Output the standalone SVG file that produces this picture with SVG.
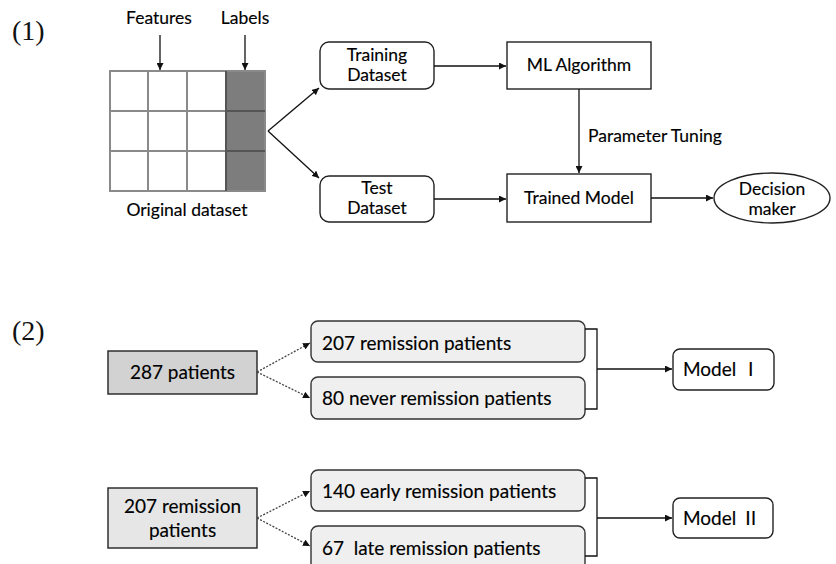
<svg xmlns="http://www.w3.org/2000/svg" width="836" height="564" viewBox="0 0 836 564">
<style>
.t{font-family:Lato,"Open Sans","Noto Sans CJK SC",sans-serif;fill:#000;stroke:#000;stroke-width:0.15;}
.s16{font-size:17.5px;}
.s18{font-size:19px;}
.num{font-family:"Liberation Serif","Times New Roman",serif;font-size:28px;fill:#111;}
.box{fill:#fff;stroke:#222;stroke-width:1.4;}
.gbox{fill:#efefef;stroke:#333;stroke-width:1.4;}
.ln{fill:none;stroke:#111;stroke-width:1.3;}
.dot{fill:none;stroke:#444;stroke-width:1.3;stroke-dasharray:2 1.5;}
</style>
<defs>
<marker id="ah" viewBox="0 0 10 10" refX="10" refY="5" markerWidth="7" markerHeight="7" markerUnits="userSpaceOnUse" orient="auto">
<path d="M0,0 L10,5 L0,10 z" fill="#111"/>
</marker>
</defs>
<rect width="836" height="564" fill="#fff"/>
<text class="num" x="12" y="40">(1)</text>
<text class="num" x="12" y="340">(2)</text>

<g id="dataset">
<rect x="110" y="71" width="116" height="120" fill="#fff"/>
<rect x="226" y="71" width="39" height="120" fill="#7d7d7d"/>
<g stroke="#8a8a8a" stroke-width="2" fill="none">
<line x1="148" y1="71" x2="148" y2="191"/>
<line x1="187" y1="71" x2="187" y2="191"/>
<line x1="110" y1="111" x2="226" y2="111"/>
<line x1="110" y1="151" x2="226" y2="151"/>
<rect x="110" y="71" width="155" height="120"/>
</g>
<g stroke="#555" stroke-width="2">
<line x1="226" y1="111" x2="265" y2="111"/>
<line x1="226" y1="151" x2="265" y2="151"/>
<line x1="226" y1="71" x2="226" y2="191"/>
</g>
<text class="t s16" x="187" y="216" text-anchor="middle">Original dataset</text>
</g>
<g id="features-label"><text class="t s16" x="159" y="24" text-anchor="middle">Features</text></g>
<g id="labels-label"><text class="t s16" x="245" y="24" text-anchor="middle">Labels</text></g>

<g id="training">
<rect class="box" x="320" y="42" width="114" height="47" rx="9"/>
<text class="t s16" x="377" y="61" text-anchor="middle">Training</text>
<text class="t s16" x="377" y="81" text-anchor="middle">Dataset</text>
</g>
<g id="test">
<rect class="box" x="320" y="176" width="114" height="46" rx="9"/>
<text class="t s16" x="377" y="194" text-anchor="middle">Test</text>
<text class="t s16" x="377" y="214" text-anchor="middle">Dataset</text>
</g>
<g id="ml">
<rect class="box" x="507" y="42" width="144" height="47"/>
<text class="t s16" x="579" y="71" text-anchor="middle">ML Algorithm</text>
</g>
<g id="trained">
<rect class="box" x="507" y="174" width="144" height="48"/>
<text class="t s16" x="579" y="204" text-anchor="middle">Trained Model</text>
</g>
<g id="decision">
<ellipse class="box" cx="772" cy="198" rx="58" ry="25"/>
<text class="t s16" x="772" y="195" text-anchor="middle">Decision</text>
<text class="t s16" x="772" y="215" text-anchor="middle">maker</text>
</g>

<g id="p287">
<rect x="108" y="351" width="149" height="43" fill="#d2d2d2" stroke="#222" stroke-width="1.4"/>
<text class="t s18" x="182.5" y="379" text-anchor="middle">287 patients</text>
</g>
<g id="r207">
<rect class="gbox" x="311" y="321" width="274" height="41" rx="7"/>
<text class="t s18" x="322" y="350">207 remission patients</text>
</g>
<g id="n80">
<rect class="gbox" x="311" y="377" width="274" height="42" rx="7"/>
<text class="t s18" x="322" y="405">80 never remission patients</text>
</g>
<g id="model1">
<rect class="box" x="673" y="349" width="101" height="41" rx="7"/>
<text class="t s18" x="683" y="376">Model Ⅰ</text>
</g>

<g id="rem207">
<rect x="108" y="488" width="149" height="60" fill="#e6e6e6" stroke="#222" stroke-width="1.4"/>
<text class="t s18" x="182.5" y="513" text-anchor="middle">207 remission</text>
<text class="t s18" x="182.5" y="537" text-anchor="middle">patients</text>
</g>
<g id="e140">
<rect class="gbox" x="311" y="470" width="274" height="41" rx="7"/>
<text class="t s18" x="322" y="498">140 early remission patients</text>
</g>
<g id="l67">
<rect class="gbox" x="311" y="526" width="274" height="44" rx="7"/>
<text class="t s18" x="322" y="555" xml:space="preserve" style="white-space:pre">67  late remission patients</text>
</g>
<g id="model2">
<rect class="box" x="673" y="498" width="100" height="40" rx="7"/>
<text class="t s18" x="683" y="525">Model Ⅱ</text>
</g>

<g id="connectors">
<line class="ln" x1="160" y1="35" x2="160" y2="70" marker-end="url(#ah)"/>
<line class="ln" x1="245" y1="35" x2="245" y2="70" marker-end="url(#ah)"/>
<line class="ln" x1="268" y1="131" x2="319" y2="88" marker-end="url(#ah)"/>
<line class="ln" x1="268" y1="131" x2="319" y2="178" marker-end="url(#ah)"/>
<line class="ln" x1="434" y1="66" x2="506" y2="66" marker-end="url(#ah)"/>
<line class="ln" x1="434" y1="199" x2="506" y2="199" marker-end="url(#ah)"/>
<line class="ln" x1="579" y1="89" x2="579" y2="173" marker-end="url(#ah)"/>
<line class="ln" x1="651" y1="198" x2="713" y2="198" marker-end="url(#ah)"/>
<text class="t s16" x="588" y="142">Parameter Tuning</text>
<line class="dot" x1="257" y1="372" x2="310" y2="343" marker-end="url(#ah)"/>
<line class="dot" x1="257" y1="372" x2="310" y2="398" marker-end="url(#ah)"/>
<path class="ln" d="M585,329 H597 V409 H585"/>
<line class="ln" x1="597" y1="369" x2="672" y2="369" marker-end="url(#ah)"/>
<line class="dot" x1="257" y1="518" x2="310" y2="491" marker-end="url(#ah)"/>
<line class="dot" x1="257" y1="518" x2="310" y2="546" marker-end="url(#ah)"/>
<path class="ln" d="M585,478 H597 V556 H585"/>
<line class="ln" x1="597" y1="518" x2="672" y2="518" marker-end="url(#ah)"/>
</g>
</svg>
